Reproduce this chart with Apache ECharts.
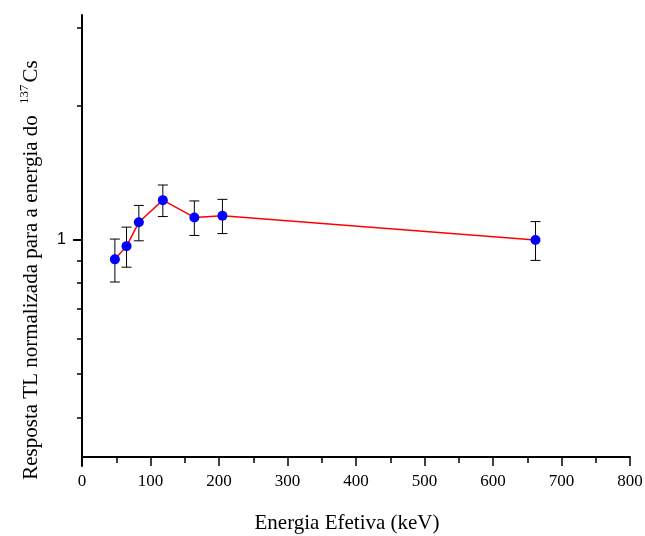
<!DOCTYPE html>
<html>
<head>
<meta charset="utf-8">
<title>Resposta TL</title>
<script src="https://cdn.jsdelivr.net/npm/echarts@6/dist/echarts.min.js"></script>
<style>
    html, body { margin: 0; padding: 0; background: #fff; }
    #main { width: 645px; height: 536px; }
</style>
</head>
<body>
<div id="main"></div>
<script>
// dados
var energia = [48, 65, 83, 118, 164, 205, 662];          // keV
var resposta = [0.905, 0.969, 1.096, 1.229, 1.124, 1.134, 1.000];
var erro = [0.10, 0.10, 0.10, 0.10, 0.10, 0.10, 0.10];
var xTicks = [0, 100, 200, 300, 400, 500, 600, 700, 800];
var yLabels = [1];
var yMinor = [0.4, 0.5, 0.6, 0.7, 0.8, 0.9, 2, 3];

var serif = "'Liberation Serif', 'DejaVu Serif', serif";

function montaDados() {
    var pontos = [];
    var barras = [];
    for (var i = 0; i < energia.length; i++) {
        pontos.push([energia[i], resposta[i]]);
        barras.push([energia[i], resposta[i] - erro[i], resposta[i] + erro[i]]);
    }
    return { pontos: pontos, barras: barras };
}

// barra de erro com "chapeu"
function desenhaErro(params, api) {
    var x = api.value(0);
    var baixo = api.coord([x, api.value(1)]);
    var alto = api.coord([x, api.value(2)]);
    var w = 5;
    var estilo = { stroke: '#000', lineWidth: 1 };
    return {
        type: 'group',
        children: [
            { type: 'line', shape: { x1: alto[0], y1: alto[1], x2: baixo[0], y2: baixo[1] }, style: estilo },
            { type: 'line', shape: { x1: alto[0] - w, y1: alto[1], x2: alto[0] + w, y2: alto[1] }, style: estilo },
            { type: 'line', shape: { x1: baixo[0] - w, y1: baixo[1], x2: baixo[0] + w, y2: baixo[1] }, style: estilo }
        ]
    };
}

function setChart() {
    var myChart = echarts.init(document.getElementById('main'));
    var d = montaDados();
    var option = {
        animation: false,
        backgroundColor: '#fff',
        grid: { left: 82, right: 15, top: 15, bottom: 70, outerBoundsMode: 'none' },
        xAxis: {
            type: 'value',
            min: xTicks[0],
            max: xTicks[xTicks.length - 1],
            interval: 100,
            offset: -9,
            name: 'Energia Efetiva (keV)',
            nameLocation: 'middle',
            nameGap: 56,
            nameTextStyle: { fontFamily: serif, fontSize: 21, color: '#000', padding: [0, 18, 0, 0] },
            axisLine: { lineStyle: { color: '#000', width: 2 } },
            axisTick: { length: 9, lineStyle: { color: '#000', width: 1.5 } },
            minorTick: { show: true, splitNumber: 2, length: 6, lineStyle: { color: '#000', width: 1.5 } },
            splitLine: { show: false },
            minorSplitLine: { show: false },
            axisLabel: { fontFamily: serif, fontSize: 17, color: '#000', margin: 16 }
        },
        yAxis: [
            {
                type: 'log',
                position: 'left',
                min: 0.311,
                max: 3.2,
                axisLine: { show: true, lineStyle: { color: '#000', width: 2 } },
                axisTick: { show: true, customValues: yLabels, length: 9, lineStyle: { color: '#000', width: 2 } },
                axisLabel: { customValues: yLabels, fontFamily: "'Liberation Sans', Arial, sans-serif", fontSize: 16, color: '#000', margin: 16 },
                splitLine: { show: false }
            },
            {
                // so os ticks menores
                type: 'log',
                position: 'left',
                min: 0.311,
                max: 3.2,
                axisLine: { show: false },
                axisTick: { show: true, customValues: yMinor, length: 5, lineStyle: { color: '#000', width: 1.5 } },
                axisLabel: { show: false },
                splitLine: { show: false }
            }
        ],
        graphic: [
            {
                type: 'text',
                x: 31,
                y: 270,
                rotation: Math.PI / 2,
                style: {
                    text: 'Resposta TL normalizada para a energia do {sup|137}Cs',
                    fontFamily: serif,
                    fontSize: 21,
                    fill: '#000',
                    align: 'center',
                    verticalAlign: 'middle',
                    rich: {
                        sup: { fontFamily: serif, fontSize: 13, fill: '#000', verticalAlign: 'bottom', padding: [0, 2, 12, 6] }
                    }
                }
            }
        ],
        series: [
            {
                type: 'custom',
                renderItem: desenhaErro,
                data: d.barras,
                encode: { x: 0, y: [1, 2] },
                z: 1
            },
            {
                type: 'line',
                data: d.pontos,
                symbol: 'circle',
                symbolSize: 10,
                lineStyle: { color: '#ff0000', width: 1.5 },
                itemStyle: { color: '#0000ff' },
                z: 3
            }
        ]
    };
    myChart.setOption(option);
}

setChart();
</script>
</body>
</html>
